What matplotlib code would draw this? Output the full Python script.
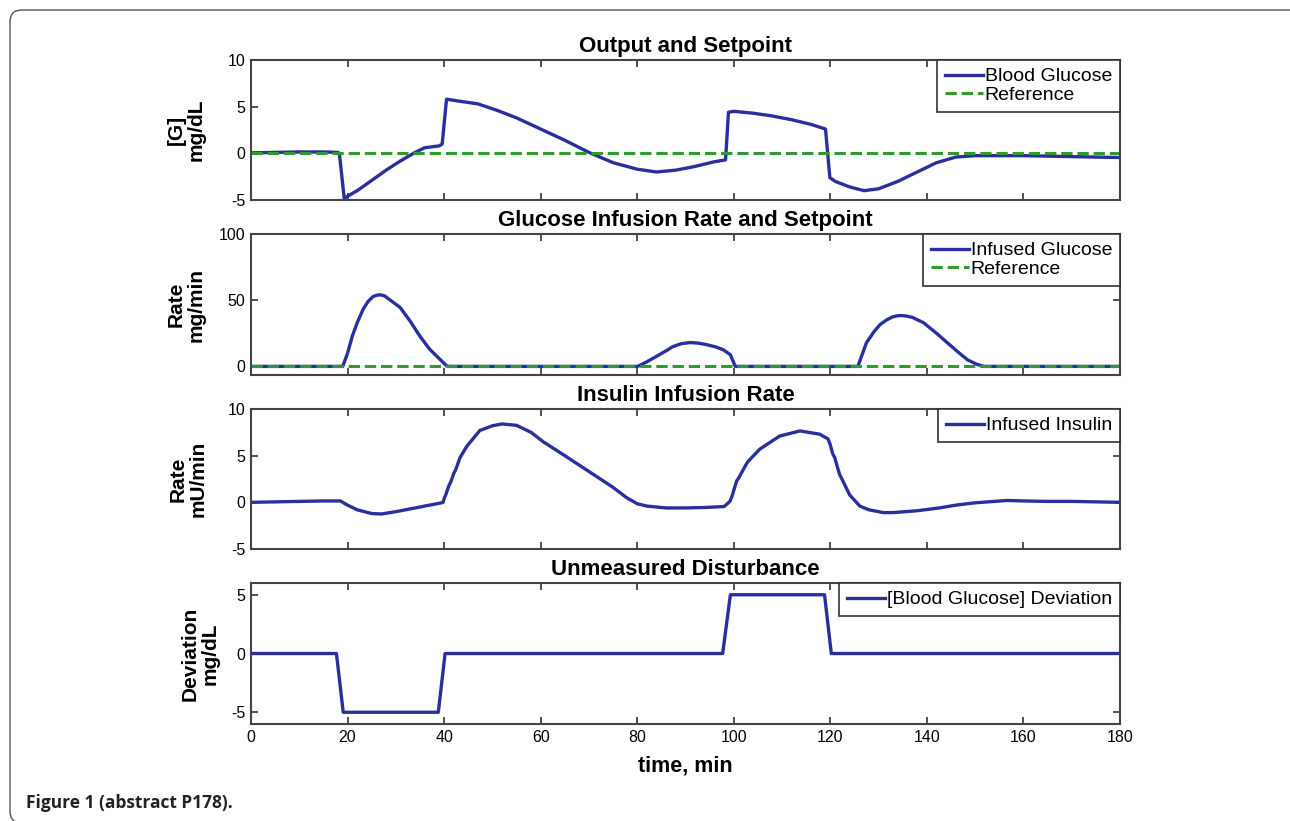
import numpy as np
import matplotlib.pyplot as plt
from matplotlib.patches import FancyBboxPatch

plt.rcParams['font.family'] = ['Liberation Sans', 'DejaVu Sans']
plt.rcParams['axes.unicode_minus'] = False

# Output and Setpoint: blood glucose (mg/dL)
bg_t = [0, 5, 10, 15, 18, 18.3, 19.3, 22, 25, 28, 31, 34, 36, 39, 39.6, 40.5, 43, 47, 51, 55,
        60, 65, 70, 75, 80, 84, 88, 92, 96, 98.3, 98.9, 100, 104, 108, 112, 116, 119, 119.9,
        121, 124, 127, 130, 134, 138, 142, 146, 150, 160, 170, 180]
bg_v = [0.05, 0.1, 0.15, 0.15, 0.1, 0.0, -4.8, -4.0, -2.9, -1.8, -0.8, 0.1, 0.6, 0.8, 1.0, 5.8,
        5.6, 5.3, 4.6, 3.8, 2.6, 1.4, 0.1, -1.0, -1.7, -2.0, -1.8, -1.4, -0.9, -0.7, 4.4, 4.5,
        4.3, 4.0, 3.6, 3.1, 2.6, -2.6, -3.0, -3.6, -4.0, -3.8, -3.0, -2.0, -1.0, -0.4, -0.25,
        -0.25, -0.35, -0.45]

# Glucose infusion rate (mg/min)
gi_t = [0, 19, 20, 21, 22, 23.2, 24.2, 25.3, 26.2, 26.9, 27.7, 28.5, 30.9, 33, 35, 37, 38.5,
        40.5, 41,
        80.1, 82, 84, 86, 87.4, 89.2, 90.9, 92.6, 94.4, 96.2, 97.8, 99.3, 100.3,
        125.7, 127.5, 129, 130.3, 131.7, 132.9, 134, 134.8, 135.8, 137, 139.3, 142, 144.2,
        146.4, 148.4, 150.3, 151.9, 180]
gi_v = [0, 0, 10, 23, 33, 43, 48.8, 52.8, 53.9, 54, 53.2, 51, 44.5, 34, 22.7, 13, 7.6,
        0.5, 0,
        0, 3.5, 7.6, 11.8, 15, 17.2, 18, 17.6, 16.4, 14.8, 12.6, 8.8, 0,
        0, 18, 26, 31.6, 35.2, 37.4, 38.3, 38.4, 38.0, 37, 33, 25, 18, 11, 5, 1.6, 0, 0]

# Insulin infusion rate (mU/min)
ii_t = [0, 5, 10, 15, 18.5, 20, 22, 25, 27, 30, 33, 36, 39, 39.8, 40, 40.4, 41, 41.4, 42,
        42.4, 43.3, 44.7, 47.4, 50, 52, 55, 58, 60.5, 65, 70.9, 75, 77.8, 80, 82, 86, 90, 94,
        98, 99.2, 99.6, 100.6, 101, 102.6, 103, 105.4, 109.5, 113.7, 117.8, 119.5, 119.9,
        120.5, 120.9, 121.9, 122.3, 124, 126.1, 128, 131, 133, 138, 142.6, 146, 150, 156.6,
        160, 165, 170, 175, 180]
ii_v = [0, 0.05, 0.1, 0.15, 0.15, -0.3, -0.8, -1.2, -1.25, -1.0, -0.7, -0.4, -0.1, 0.0, 0.4,
        0.9, 1.8, 2.2, 3.1, 3.5, 4.8, 6.0, 7.7, 8.2, 8.4, 8.25, 7.5, 6.5, 5.0, 3.0, 1.6, 0.5,
        -0.15, -0.4, -0.6, -0.6, -0.55, -0.45, 0.1, 0.6, 2.3, 2.6, 4.1, 4.4, 5.7, 7.1, 7.65,
        7.3, 6.8, 6.3, 5.2, 4.8, 3.0, 2.6, 0.8, -0.4, -0.8, -1.1, -1.1, -0.9, -0.6, -0.3,
        -0.05, 0.2, 0.15, 0.1, 0.1, 0.05, 0.0]

# Unmeasured disturbance (mg/dL)
dist_t = [0, 17.7, 19.1, 38.8, 40.2, 97.7, 99.3, 118.8, 120.2, 180]
dist_v = [0, 0, -5, -5, 0, 0, 5, 5, 0, 0]

ref_t = [0, 180]
ref_v = [0, 0]

x_ticks = np.arange(0, 181, 20)

blue = '#2a2f9e'
green = '#2f9a2f'

fig = plt.figure(figsize=(12.9, 8.21), dpi=100)

# rounded page frame (top-left corner)
frame = FancyBboxPatch((0.10, -0.02), 13.5, 8.13,
                       boxstyle='round,pad=0,rounding_size=0.12',
                       transform=fig.dpi_scale_trans, fill=False,
                       edgecolor='#555555', linewidth=1.0)
fig.add_artist(frame)

left = 251 / 1290
width = (1120 - 251) / 1290


def make_axes(top_px, bottom_px):
    return fig.add_axes([left, 1 - bottom_px / 821, width, (bottom_px - top_px) / 821])


def style(ax, ylim, yticks, title, ylabel, label_x, xlabels=False):
    ax.set_xlim(0, 180)
    ax.set_ylim(*ylim)
    ax.set_xticks(x_ticks)
    ax.set_yticks(yticks)
    if not xlabels:
        ax.set_xticklabels([])
    ax.tick_params(direction='in', top=True, right=True, length=5, width=1.2,
                   color='#333333', labelsize=11.5, pad=4)
    for sp in ax.spines.values():
        sp.set_linewidth(1.5)
        sp.set_color('#444444')
    ax.set_title(title, fontsize=16, fontweight='bold', pad=6)
    ax.set_ylabel(ylabel, fontsize=15, fontweight='bold', linespacing=1.05)
    ax.yaxis.set_label_coords(label_x, 0.5)
    leg = ax.legend(loc='upper right', borderaxespad=0, fancybox=False, framealpha=1,
                    edgecolor='#333333', handlelength=1.95, handletextpad=0.1,
                    borderpad=0.4, labelspacing=0.05, fontsize=14)
    leg.get_frame().set_linewidth(1.2)


ax1 = make_axes(60, 200)
ax1.plot(bg_t, bg_v, color=blue, lw=2.4, label='Blood Glucose')
ax1.plot(ref_t, ref_v, color=green, lw=2.2, ls='--', label='Reference')
style(ax1, (-5, 10), [-5, 0, 5, 10], 'Output and Setpoint', '[G]\nmg/dL', -0.052)

ax2 = make_axes(234, 375)
ax2.plot(gi_t, gi_v, color=blue, lw=2.4, label='Infused Glucose')
ax2.plot(ref_t, ref_v, color=green, lw=2.2, ls='--', label='Reference')
style(ax2, (-6.5, 100), [0, 50, 100], 'Glucose Infusion Rate and Setpoint', 'Rate\nmg/min',
      -0.052)

ax3 = make_axes(409, 549)
ax3.plot(ii_t, ii_v, color=blue, lw=2.4, label='Infused Insulin')
style(ax3, (-5, 10), [-5, 0, 5, 10], 'Insulin Infusion Rate', 'Rate\nmU/min', -0.050)

ax4 = make_axes(583, 724)
ax4.plot(dist_t, dist_v, color=blue, lw=2.4, label='[Blood Glucose] Deviation')
style(ax4, (-6, 6), [-5, 0, 5], 'Unmeasured Disturbance', 'Deviation\nmg/dL', -0.036,
      xlabels=True)
ax4.set_xlabel('time, min', fontsize=15.5, fontweight='bold', labelpad=8)

fig.text(26 / 1290, 1 - 808 / 821, 'Figure 1 (abstract P178).', fontsize=12.5,
         fontweight='bold', family=['Open Sans', 'DejaVu Sans'], color='#222222',
         va='baseline')

fig.savefig('out.png', dpi=100)
